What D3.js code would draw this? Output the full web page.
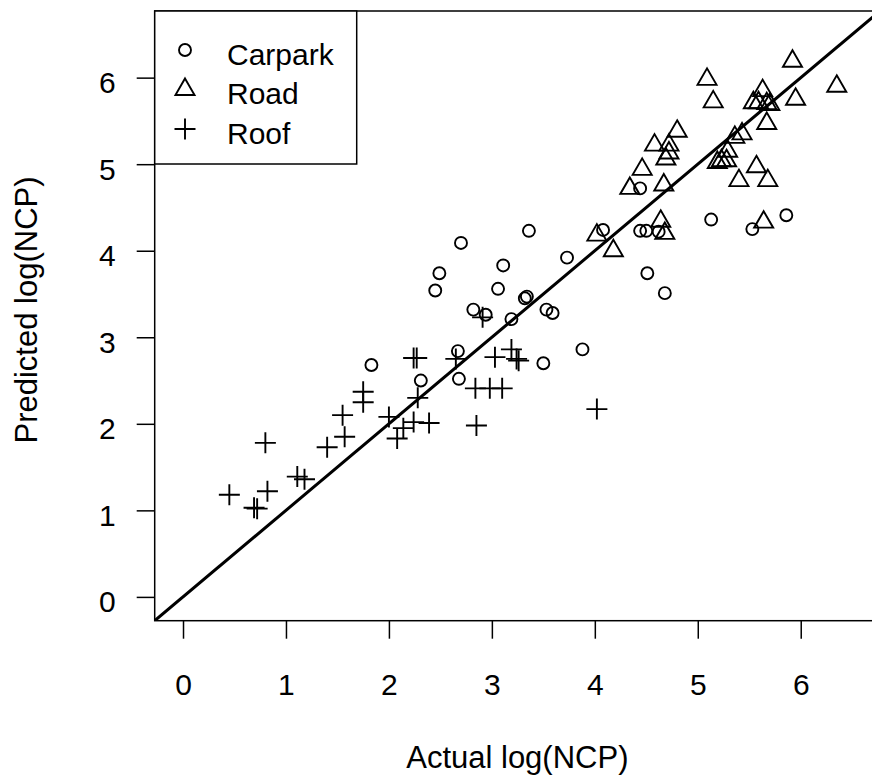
<!DOCTYPE html>
<html>
<head>
<meta charset="utf-8">
<script src="https://cdn.jsdelivr.net/npm/d3@7"></script>
<style>
  body { margin: 0; background: #fff; }
  text { font-family: 'Liberation Sans', Arial, sans-serif; fill: #000; }
</style>
</head>
<body>
<svg class="scatter"></svg>
<script>
// Values
let carparkX = [4.44, 4.08, 3.36, 2.70, 3.73, 4.44, 4.50, 4.62, 3.11, 2.49, 4.51, 3.06, 2.45, 3.32, 3.34,
  2.82, 2.94, 3.53, 3.59, 3.19, 3.88, 2.67, 3.50, 2.31, 2.68, 1.83, 4.68, 5.13, 5.53, 5.86];
let carparkY = [4.72, 4.24, 4.23, 4.09, 3.92, 4.23, 4.23, 4.22, 3.83, 3.74, 3.74, 3.56, 3.54, 3.45, 3.47,
  3.32, 3.26, 3.32, 3.28, 3.21, 2.86, 2.84, 2.70, 2.50, 2.52, 2.68, 3.51, 4.36, 4.25, 4.41];

let roadX = [5.92, 5.09, 6.35, 5.15, 5.95, 5.63, 5.54, 5.59, 5.67, 5.70, 5.67, 4.80, 5.43, 5.36, 4.58,
  4.72, 4.72, 4.69, 5.29, 5.28, 5.19, 5.23, 5.57, 4.46, 5.40, 5.68, 4.67, 4.34, 4.02, 4.18, 4.64, 4.68, 5.64];
let roadY = [6.19, 5.98, 5.90, 5.72, 5.75, 5.85, 5.71, 5.71, 5.70, 5.69, 5.47, 5.38, 5.35, 5.31, 5.22,
  5.22, 5.13, 5.06, 5.15, 5.04, 5.02, 5.04, 4.97, 4.94, 4.81, 4.81, 4.76, 4.72, 4.18, 4.00, 4.34, 4.20, 4.33];

let roofX = [4.02, 2.85, 2.39, 2.24, 2.14, 2.28, 2.84, 2.98, 3.10, 2.24, 2.27, 2.65, 3.03, 3.19, 3.24,
  3.26, 2.91, 1.75, 1.75, 1.55, 2.00, 1.57, 2.08, 1.40, 0.80, 1.11, 1.18, 0.45, 0.82, 0.69, 0.72];
let roofY = [2.17, 1.98, 2.01, 2.02, 1.95, 2.30, 2.41, 2.41, 2.41, 2.76, 2.76, 2.75, 2.77, 2.86, 2.75,
  2.73, 3.23, 2.37, 2.25, 2.10, 2.08, 1.85, 1.83, 1.73, 1.78, 1.39, 1.36, 1.18, 1.22, 1.03, 1.02];

let tickValues = [0, 1, 2, 3, 4, 5, 6];
let seriesNames = ['Carpark', 'Road', 'Roof'];

let width = 872, height = 780;
let plot = {left: 154.7, right: 880, top: 11, bottom: 620.7};
let fontSize = 30;

let svg = d3.select('.scatter')
  .attr('width', width)
  .attr('height', height);

svg.append('rect')
  .attr('width', width)
  .attr('height', height)
  .attr('fill', '#fff');

let xScale = d3.scaleLinear()
  .domain([-0.275, 6.77])
  .range([plot.left, plot.right]);

let yScale = d3.scaleLinear()
  .domain([-0.275, 6.77])
  .range([plot.bottom, plot.top]);

// marker shapes (R pch 1, 2, 3)
let triangle = 'M0,-11L9.53,5.5L-9.53,5.5Z';
let plus = 'M-10.5,0H10.5M0,-10.5V10.5';

let drawMarker = function (g, type) {
  if (type === 'Carpark') {
    g.append('circle').attr('r', 6);
  } else if (type === 'Road') {
    g.append('path').attr('d', triangle);
  } else {
    g.append('path').attr('d', plus);
  }
  g.attr('fill', 'none')
    .attr('stroke', '#000')
    .attr('stroke-width', 1.9);
};

// clip for the 1:1 line
svg.append('clipPath')
  .attr('id', 'plot-clip')
  .append('rect')
  .attr('x', plot.left)
  .attr('y', plot.top)
  .attr('width', plot.right - plot.left)
  .attr('height', plot.bottom - plot.top);

// x axis
let xAxis = svg.append('g')
  .attr('class', 'x axis')
  .attr('transform', 'translate(0,' + plot.bottom + ')')
  .call(d3.axisBottom(xScale).tickValues(tickValues).tickFormat(d3.format('d'))
    .tickSize(18).tickSizeOuter(0).tickPadding(35));

// y axis
let yAxis = svg.append('g')
  .attr('class', 'y axis')
  .attr('transform', 'translate(' + plot.left + ',0)')
  .call(d3.axisLeft(yScale).tickValues(tickValues).tickFormat(d3.format('d'))
    .tickSize(18).tickSizeOuter(0).tickPadding(21));

svg.selectAll('.axis .domain').remove();
svg.selectAll('.axis line').attr('stroke', '#000').attr('stroke-width', 1.5);
svg.selectAll('.axis text')
  .attr('font-size', fontSize)
  .attr('font-family', "'Liberation Sans', Arial, sans-serif")
  .attr('fill', '#000');
yAxis.selectAll('text').attr('dy', '0.5em');

// 1:1 line
svg.append('line')
  .attr('clip-path', 'url(#plot-clip)')
  .attr('x1', xScale(-0.275))
  .attr('y1', yScale(-0.275))
  .attr('x2', xScale(6.77))
  .attr('y2', yScale(6.77))
  .attr('stroke', '#000')
  .attr('stroke-width', 3);

// points
let series = [
  {name: 'Carpark', x: carparkX, y: carparkY},
  {name: 'Road', x: roadX, y: roadY},
  {name: 'Roof', x: roofX, y: roofY}
];

series.forEach(function (s) {
  svg.append('g')
    .attr('class', 'points-' + s.name)
    .selectAll('g')
    .data(s.x.map((v, i) => ({x: v, y: s.y[i]})))
    .enter()
    .append('g')
    .attr('transform', (d) => 'translate(' + xScale(d.x) + ',' + yScale(d.y) + ')')
    .each(function () { drawMarker(d3.select(this), s.name); });
});

// plot box
svg.append('rect')
  .attr('x', plot.left)
  .attr('y', plot.top)
  .attr('width', plot.right - plot.left)
  .attr('height', plot.bottom - plot.top)
  .attr('fill', 'none')
  .attr('stroke', '#000')
  .attr('stroke-width', 1.5);

// legend
let legend = svg.append('g').attr('class', 'legend');
legend.append('rect')
  .attr('x', plot.left)
  .attr('y', plot.top)
  .attr('width', 202)
  .attr('height', 153)
  .attr('fill', '#fff')
  .attr('stroke', '#000')
  .attr('stroke-width', 1.5);

let legendRows = [50, 89.5, 129];
seriesNames.forEach(function (name, i) {
  let row = legend.append('g')
    .attr('transform', 'translate(185,' + legendRows[i] + ')');
  drawMarker(row.append('g'), name);
  row.append('text')
    .attr('x', 42)
    .attr('y', 14.5)
    .attr('font-size', fontSize)
    .text(name);
});

// axis titles
svg.append('text')
  .attr('x', (plot.left + plot.right) / 2)
  .attr('y', 768)
  .attr('text-anchor', 'middle')
  .attr('font-size', 31)
  .text('Actual log(NCP)');

svg.append('text')
  .attr('transform', 'translate(37,' + 310 + ') rotate(-90)')
  .attr('text-anchor', 'middle')
  .attr('font-size', 31)
  .text('Predicted log(NCP)');
</script>
</body>
</html>
